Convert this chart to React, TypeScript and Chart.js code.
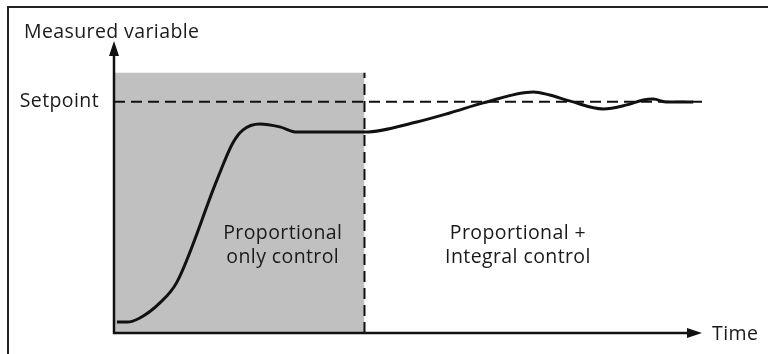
import React, { useEffect, useRef } from "react";
import { Chart, registerables } from "chart.js";

Chart.register(...registerables);

// Process response: time (arbitrary units) vs measured variable (arbitrary units)
const timeValues = [0.5, 2.2, 4.4, 7.8, 10.7, 17.5, 20.2, 21.9, 24.8, 28.2, 31.1, 36.7, 42.7, 51.5, 57.1, 62.8, 71.3, 74.1, 77.6, 83.2, 87.2, 90.0, 91.7, 94.0, 98.5];
const measuredValues = [3.8, 3.8, 5.2, 10.4, 17.6, 52.9, 65.7, 70.2, 72.3, 71.3, 69.5, 69.5, 69.5, 73.0, 76.1, 79.6, 83.4, 82.3, 80.2, 77.5, 78.9, 80.6, 80.9, 79.9, 79.9];

const setpointValue = 80;
const switchTime = 42.6; // change from P-only to P+I control
const shadeTop = 90;
const xMin = 0;
const xMax = 100;
const yMin = 0;
const yMax = 101;

const axisLabelY = "Measured variable";
const axisLabelX = "Time";
const setpointLabel = "Setpoint";
const regionLabelLeft = ["Proportional", "only control"];
const regionLabelRight = ["Proportional +", "Integral control"];

const FONT = "'Open Sans', Lato, sans-serif";
const INK = "#111111";

const diagramPlugin = {
  id: "diagram",
  beforeDraw(chart: any) {
    const ctx = chart.ctx;
    ctx.save();
    ctx.fillStyle = "#ffffff";
    ctx.fillRect(0, 0, chart.width, chart.height);
    // frame (only top and left edges visible in the cropped figure)
    ctx.strokeStyle = "#222222";
    ctx.lineWidth = 2;
    ctx.strokeRect(8, 7, chart.width + 20, chart.height + 20);
    ctx.restore();
  },
  afterDatasetsDraw(chart: any) {
    const ctx = chart.ctx;
    const xs = chart.scales.x;
    const ys = chart.scales.y;
    const x0 = xs.getPixelForValue(xMin);
    const x1 = xs.getPixelForValue(xMax);
    const y0 = ys.getPixelForValue(yMin);
    const y1 = ys.getPixelForValue(yMax);
    ctx.save();
    ctx.strokeStyle = INK;
    ctx.fillStyle = INK;
    ctx.lineWidth = 2.5;
    ctx.setLineDash([]);
    // y axis
    ctx.beginPath();
    ctx.moveTo(x0, y0 + 1);
    ctx.lineTo(x0, y1 + 12);
    ctx.stroke();
    ctx.beginPath();
    ctx.moveTo(x0, y1);
    ctx.lineTo(x0 - 5, y1 + 15);
    ctx.lineTo(x0 + 5, y1 + 15);
    ctx.closePath();
    ctx.fill();
    // x axis
    ctx.beginPath();
    ctx.moveTo(x0 - 1, y0);
    ctx.lineTo(x1 - 12, y0);
    ctx.stroke();
    ctx.beginPath();
    ctx.moveTo(x1, y0);
    ctx.lineTo(x1 - 15, y0 - 5);
    ctx.lineTo(x1 - 15, y0 + 5);
    ctx.closePath();
    ctx.fill();

    // texts
    ctx.fillStyle = "#1a1a1a";
    ctx.font = `19.5px ${FONT}`;
    try {
      ctx.letterSpacing = "0.4px";
    } catch (e) {}
    ctx.textAlign = "left";
    ctx.textBaseline = "alphabetic";
    ctx.fillText(axisLabelY, 24, 38);
    ctx.textBaseline = "middle";
    ctx.fillText(axisLabelX, x1 + 10, y0 + 1);
    ctx.textAlign = "right";
    ctx.fillText(setpointLabel, x0 - 15, ys.getPixelForValue(setpointValue));
    ctx.textAlign = "center";
    ctx.textBaseline = "alphabetic";
    const lx = xs.getPixelForValue(28.7);
    const rx = xs.getPixelForValue(68.7);
    const b1 = ys.getPixelForValue(32.5);
    const b2 = ys.getPixelForValue(24.2);
    ctx.fillText(regionLabelLeft[0], lx, b1);
    ctx.fillText(regionLabelLeft[1], lx, b2);
    ctx.fillText(regionLabelRight[0], rx, b1);
    ctx.fillText(regionLabelRight[1], rx, b2);
    ctx.restore();
  },
};

export default function App() {
  const canvasRef = useRef<HTMLCanvasElement | null>(null);

  useEffect(() => {
    document.body.style.margin = "0";
    const canvas = canvasRef.current;
    if (!canvas) return;
    const chart = new Chart(canvas, {
      type: "line",
      data: {
        datasets: [
          {
            label: "Response",
            data: timeValues.map((t, i) => ({ x: t, y: measuredValues[i] })),
            borderColor: INK,
            borderWidth: 3,
            pointRadius: 0,
            cubicInterpolationMode: "monotone",
            fill: false,
            order: 0,
          },
          {
            label: "Setpoint",
            data: [
              { x: xMin, y: setpointValue },
              { x: xMax, y: setpointValue },
            ],
            borderColor: INK,
            borderWidth: 2,
            borderDash: [11, 6],
            pointRadius: 0,
            fill: false,
            order: 1,
          },
          {
            label: "Switch",
            data: [
              { x: switchTime, y: yMin },
              { x: switchTime, y: shadeTop },
            ],
            borderColor: INK,
            borderWidth: 2,
            borderDash: [11, 6],
            pointRadius: 0,
            fill: false,
            order: 2,
          },
          {
            label: "P-only region",
            data: [
              { x: xMin, y: shadeTop },
              { x: switchTime, y: shadeTop },
            ],
            borderWidth: 0,
            borderColor: "rgba(0,0,0,0)",
            backgroundColor: "#c0c0c0",
            pointRadius: 0,
            fill: "origin",
            order: 3,
          },
        ],
      },
      options: {
        responsive: false,
        animation: false,
        layout: { padding: { left: 114, right: 66, top: 41, bottom: 21 } },
        scales: {
          x: { type: "linear", min: xMin, max: xMax, display: false },
          y: { type: "linear", min: yMin, max: yMax, display: false },
        },
        plugins: {
          legend: { display: false },
          tooltip: { enabled: false },
          title: { display: false },
        },
      },
      plugins: [diagramPlugin],
    });
    return () => chart.destroy();
  }, []);

  return (
    <div style={{ width: 768, height: 354 }}>
      <canvas ref={canvasRef} width={768} height={354} style={{ display: "block" }} />
    </div>
  );
}
